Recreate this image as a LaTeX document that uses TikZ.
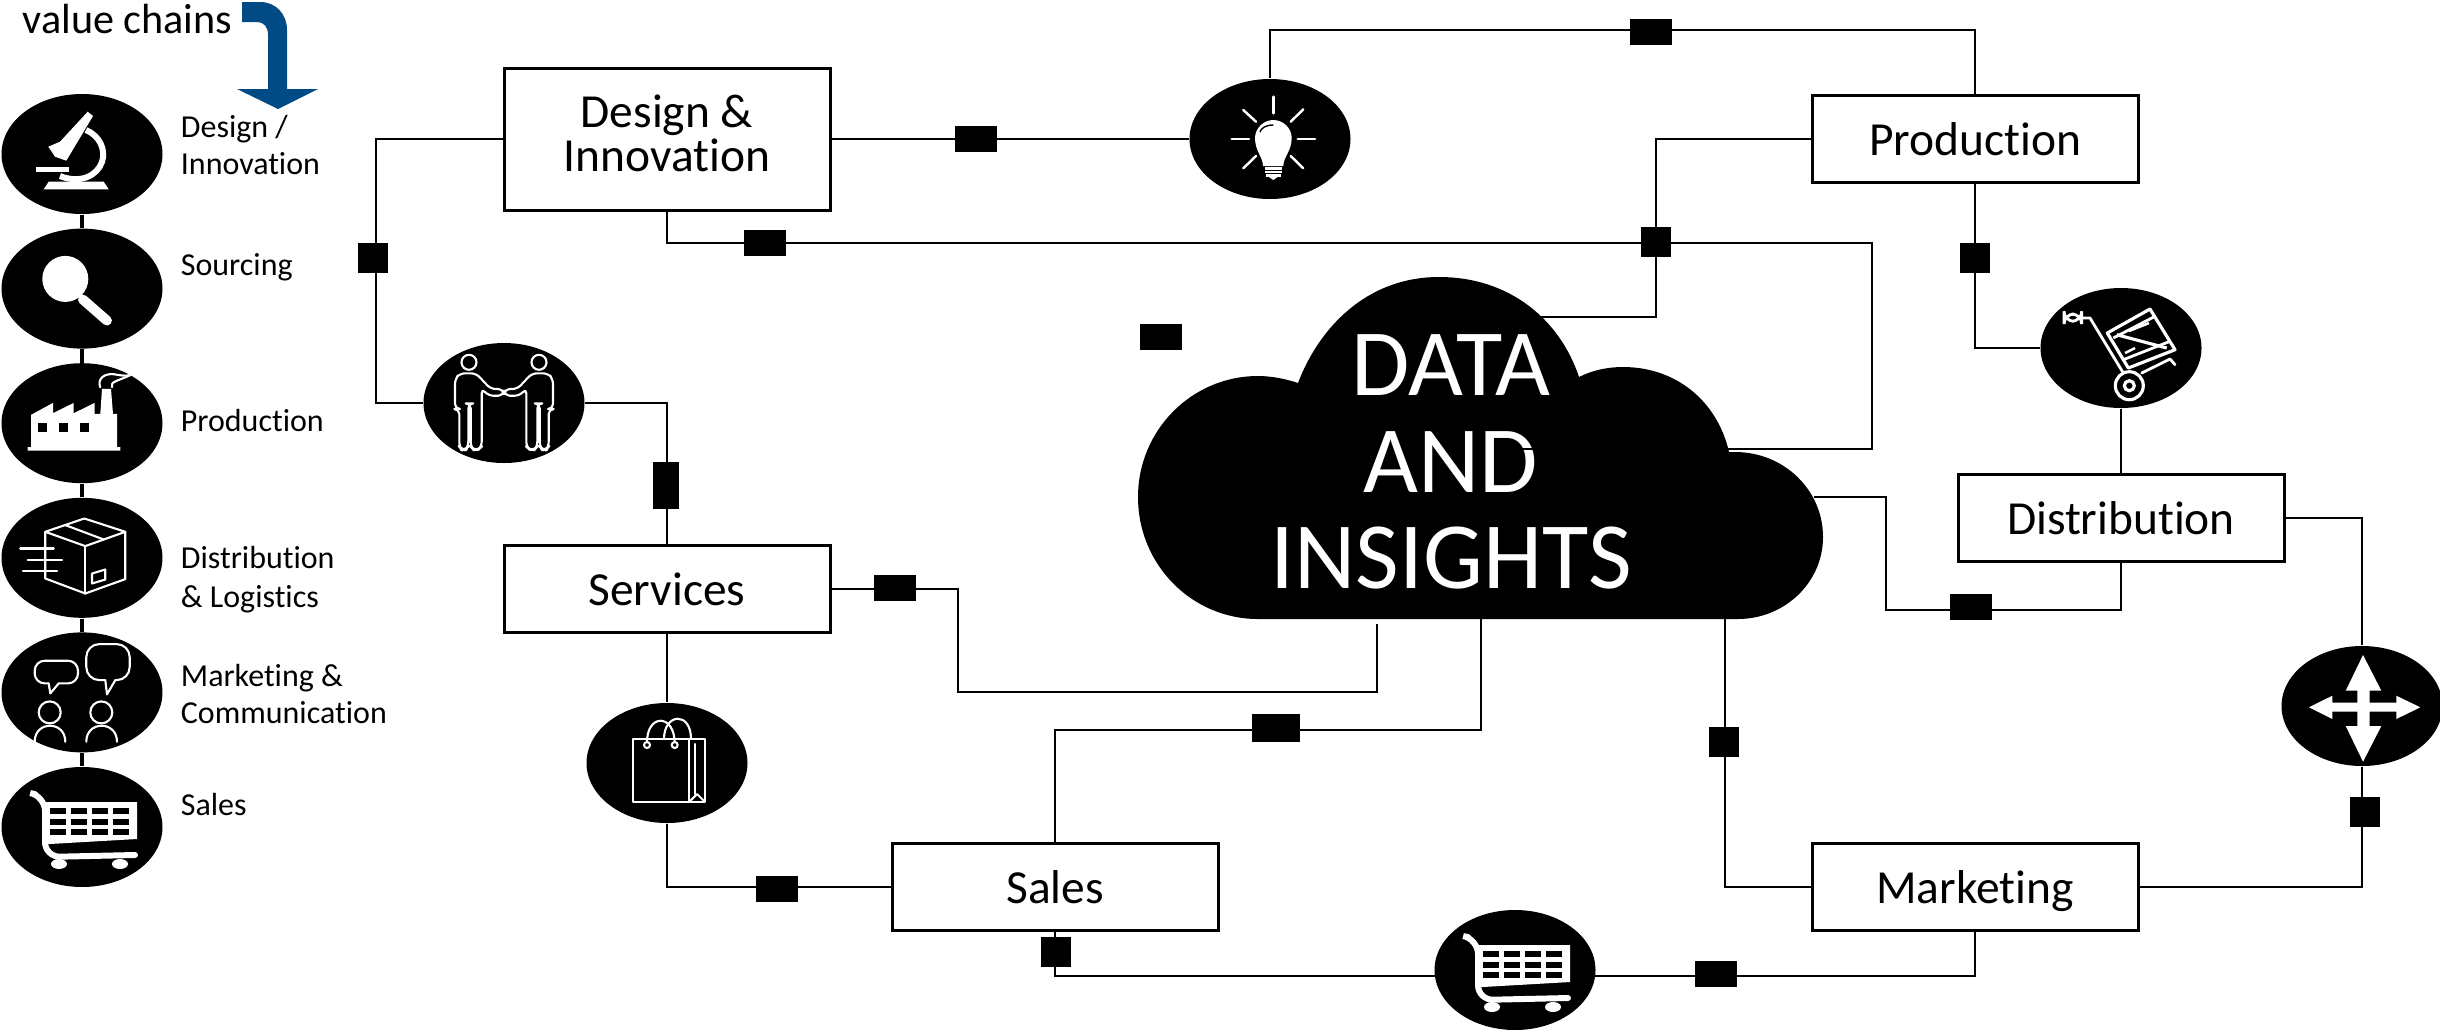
\documentclass[tikz,border=0pt]{standalone}
\usepackage{fontspec}
\setmainfont[Ligatures=NoCommon]{Carlito}
\usetikzlibrary{positioning,shapes.geometric}
\definecolor{chainblue}{HTML}{004A86}
\tikzset{
  iconline/.style={white,line width=.6pt,line join=round,line cap=round},
  pics/micropic/.style={code={
    \fill[white] (5.7,-42.3) -- (11,-38) -- (-15.7,6.7) -- (-27,2.7) -- (-33.7,-7.3) -- (-22,-12.3) -- cycle;
    \draw[white,line width=1.7pt] (4,-24) .. controls (18,-18) and (24,-4) .. (20,8) .. controls (15,22) and (-2,30) .. (-22,22);
    \fill[white] (-45.7,12.7) rectangle (-13.3,18);
    \fill[white] (-33.3,27.7) -- (21.7,27.7) -- (26.7,35.3) -- (-38.3,35.3) -- cycle;
  }},
  pics/lenspic/.style={code={
    \fill[white] (-16.7,-9.7) circle[radius=23];
    \draw[white,line width=1.4pt] (-8,1) -- (0,9);
    \draw[white,line width=2.8pt,line cap=round] (1,11) -- (25,32);
  }},
  pics/factorypic/.style={code={
    \fill[white] (-51,-8.3) -- (-29,-20.3) -- (-29,-10) -- (-8.3,-20.3) -- (-8.3,-10) -- (12.7,-20.3) -- (12.7,-9.3) -- (18.3,-9.3) -- (20,-34.3) -- (29,-34.3) -- (31,-9.3) -- (35,-9.3) -- (35,24) -- (38.3,24) -- (38.3,27.3) -- (-54.3,27.3) -- (-54.3,24) -- (-51,24) -- cycle;
    \foreach \winx in {-44.3,-23.3,-2.3}
      \fill[black] (\winx,0) rectangle ++(9,8.7);
    \draw[iconline] (18.3,-36) .. controls (15,-44) and (22,-50) .. (31.7,-49) .. controls (38,-48) and (42,-47) .. (48,-48);
    \draw[iconline] (30,-36) .. controls (28,-42) and (36,-42) .. (48,-48);
  }},
  pics/boxpic/.style={code={
    \draw[iconline] (-36.7,-26) -- (2.3,-39.3) -- (43.3,-26) -- (3.3,-11.7) -- cycle;
    \draw[iconline] (-36.7,-26) -- (-36.7,20.7) -- (3.3,35.7) -- (43.3,21.3) -- (43.3,-26);
    \draw[iconline] (3.3,-11.7) -- (3.3,35.7);
    \draw[iconline] (-16.7,-32.7) -- (21.7,-18.3);
    \draw[iconline] (10,15.7) -- (23.3,11.7) -- (23.3,21.7) -- (10,25.7) -- cycle;
    \draw[iconline] (-61.7,-9.3) -- (-28.3,-9.3);
    \draw[iconline] (-54.3,2.3) -- (-20,2.3);
    \draw[iconline] (-59,13) -- (-25,13);
  }},
  pics/talkpic/.style={code={
    \draw[iconline,rounded corners=1mm] (-33.3,-9) -- (-47.3,-9) -- (-47.3,-31.7) -- (-4,-31.7) -- (-4,-9) -- (-23.3,-9);
    \draw[iconline] (-33.3,-9) -- (-31.7,1) -- (-23.3,-9);
    \draw[iconline,rounded corners=1.3mm] (23.3,-12.3) -- (4.3,-12.3) -- (4.3,-48.3) -- (47.7,-48.3) -- (47.7,-12.3) -- (33.3,-12.3);
    \draw[iconline] (23.3,-12.3) -- (25,2) -- (33.3,-12.3);
    \draw[iconline] (-32.3,20) circle[radius=11];
    \draw[iconline] (19.3,20) circle[radius=11];
    \draw[iconline] (-47.3,49.3) .. controls (-47.3,28) and (-16.7,28) .. (-16.7,49.3);
    \draw[iconline] (4.3,49.3) .. controls (4.3,28) and (35,28) .. (35,49.3);
  }},
  pics/cartpic/.style={code={
    \fill[white] (-38,-25) -- (55,-25) -- (55,12) -- (-32,17) -- (-38,17) -- cycle;
    \foreach \cellx in {-32,-11,10,31} {
      \fill[black] (\cellx,-19) rectangle ++(16,6);
      \fill[black] (\cellx,-8) rectangle ++(16,6);
      \fill[black] (\cellx,2) rectangle ++(16,6);
    }
    \draw[white,line width=1.7pt,line cap=round,rounded corners=1.5mm] (-47,-33) -- (-37,-31) -- (-37,30) -- (53,28);
    \fill[white] (-23,37) ellipse[x radius=8,y radius=5];
    \fill[white] (38,37) ellipse[x radius=8,y radius=5];
  }},
  pics/bulbpic/.style={code={
    \foreach \raya/\rayb/\rayc/\rayd in {3.3/-42.3/3.3/-25.7,-26.7/-29/-14/-17.3,33.3/-29.7/20.7/-17.3,-38.3/0/-21/0,27.7/0/45/0,-26.7/29.3/-14/17,33.3/29.3/20.7/17}
      \draw[white,line width=.7pt,line cap=round] (\raya,\rayb) -- (\rayc,\rayd);
    \fill[white] (-7,27) .. controls (-7,18) and (-15,12) .. (-15,-1) .. controls (-15,-11) and (-6,-19) .. (3.3,-19) .. controls (13,-19) and (21.7,-11) .. (21.7,-1) .. controls (21.7,12) and (13.3,18) .. (13.3,27) -- cycle;
    \draw[black,line width=.4pt] (-10,-7) .. controls (-9,-11) and (-4,-14) .. (3.3,-14);
    \draw[white,line width=.7pt] (-5,29.5) -- (11.5,29.5);
    \draw[white,line width=.7pt] (-5,33) -- (11.5,33);
    \draw[white,line width=.7pt] (-4,36.5) -- (10.5,36.5);
    \fill[white] (-1,38) -- (7.5,38) -- (3.3,41) -- cycle;
  }},
  pics/personpic/.style={code={
    \draw[iconline,rounded corners=.5mm] (-49,-24) -- (-44,-29.7) -- (-28,-29.7) -- (-13.3,-14) -- (-.5,-14) -- (-.5,-7.3) -- (-15.7,-7.3) -- (-22.3,-14.7) -- (-22.3,43.7) -- (-25.7,46.7) -- (-30.7,46.7) -- (-33.3,43.7) -- (-33.3,.3) -- (-35.7,.3) -- (-35.7,43.7) -- (-38.3,46.7) -- (-42.3,46.7) -- (-44.7,43.7) -- (-44.7,6) -- (-49,6) -- cycle;
    \draw[iconline] (-35,-40.7) circle[radius=7.5];
  }},
  pics/bagpic/.style={code={
    \draw[iconline] (-34.3,-24) rectangle (21.7,39.3);
    \draw[iconline] (21.7,-24) -- (38.3,-24) -- (38.3,39.3) -- (21.7,39.3);
    \draw[iconline] (28,-19) -- (28,31);
    \draw[iconline] (23,38) -- (30,31) -- (37,38);
    \draw[iconline] (-20,-19) .. controls (-21,-50) and (8,-50) .. (7.7,-19);
    \draw[iconline] (-3,-24) .. controls (-3,-50) and (24,-52) .. (24,-24);
    \draw[iconline,fill=black] (-20,-18) circle[radius=3];
    \draw[iconline,fill=black] (7.7,-18) circle[radius=3];
  }},
  pics/trolleypic/.style={code={
    \draw[white,line width=.8pt,rounded corners=1mm] (-57,-34) rectangle (-39.3,-26.7);
    \draw[white,line width=.8pt,line join=round] (-39.3,-30) -- (-31,-30) -- (2.3,25);
    \draw[white,line width=.9pt] (8.3,37.7) circle[radius=14];
    \draw[white,line width=.9pt] (8.3,37.7) circle[radius=5];
    \draw[white,line width=.8pt,line cap=round,line join=round] (20.7,25) -- (49,11) -- (54,16.7);
    \draw[white,line width=.9pt,line join=round] (-13.7,-15) -- (29,-39) -- (54,1.7) -- (7.3,20) -- cycle;
    \draw[white,line width=.8pt] (-7.7,-10) -- (34,-31.7);
    \draw[white,line width=.8pt] (2.3,11.7) -- (49,-6.7);
    \draw[white,line width=.9pt] (-4.3,-13.3) -- (45.7,0);
    \draw[white,line width=.7pt] (8,-17) -- (28,-25);
    \draw[white,line width=.7pt] (4,5) -- (14,0);
  }},
  pics/crosspic/.style={code={
    \fill[white] (1,-51) -- (19.3,-15.3) -- (7.7,-15.3) -- (7.7,-3.3) -- (34.3,-3.3) -- (34.3,-10.3) -- (58.3,1.3) -- (34.3,13) -- (34.3,5.7) -- (7.7,5.7) -- (7.7,20) -- (19.3,20) -- (1,55.7) -- (-16.3,20) -- (-4.7,20) -- (-4.7,5.7) -- (-29.7,5.7) -- (-29.7,13) -- (-53,1.3) -- (-29.7,-10.3) -- (-29.7,-3.3) -- (-4.7,-3.3) -- (-4.7,-15.3) -- (-16.3,-15.3) -- cycle;
  }}
}

\begin{document}
\begin{tikzpicture}[x=.1mm,y=-.1mm,node distance=1.346cm,
    bubble/.style={ellipse,fill=black,inner sep=0pt,minimum width=1.61cm,minimum height=1.2cm},
    stagebox/.style={rectangle,draw,line width=.85pt,inner sep=0pt,minimum width=3.26cm,minimum height=.87cm,align=center,font=\fontsize{13.5}{12.4}\selectfont},
    stageline/.style={stagebox,text height=9.6pt,text depth=.1pt},
    chainlabel/.style={inner sep=0pt,align=left,font=\fontsize{9.1}{10.7}\selectfont},
    link/.style={line width=.45pt},
    chainlink/.style={line width=1.1pt},
    tagwide/.style={rectangle,fill=black,inner sep=0pt,minimum width=.42cm,minimum height=.26cm},
    tagtall/.style={rectangle,fill=black,inner sep=0pt,minimum width=.26cm,minimum height=.47cm},
    tagsquare/.style={rectangle,fill=black,inner sep=0pt,minimum width=.3cm,minimum height=.3cm}]
	\useasboundingbox (0,0) rectangle (2440,1029);

	\fill[chainblue] (242,2) -- (260,2) .. controls (276,2) and (287,14) .. (287,30) -- (287,89) -- (318,89) -- (278,109) -- (237,89) -- (268,89) -- (268,35) .. controls (268,27) and (264,22) .. (257,22) -- (242,22) -- cycle;
	\node[inner sep=0pt,anchor=base west,font=\fontsize{12}{14}\selectfont] (chainhead) at (22,33) {value chains};

	\node[bubble] (chain1) at (82,154) {};
	\node[bubble] (chain2) [below of=chain1] {};
	\node[bubble] (chain3) [below of=chain2] {};
	\node[bubble] (chain4) [below of=chain3] {};
	\node[bubble] (chain5) [below of=chain4] {};
	\node[bubble] (chain6) [below of=chain5] {};
	\draw[chainlink] (chain1) -- (chain2);
	\draw[chainlink] (chain2) -- (chain3);
	\draw[chainlink] (chain3) -- (chain4);
	\draw[chainlink] (chain4) -- (chain5);
	\draw[chainlink] (chain5) -- (chain6);
	\pic at (chain1) {micropic};
	\pic at (chain2) {lenspic};
	\pic at (chain3) {factorypic};
	\pic at (chain4) {boxpic};
	\pic at (chain5) {talkpic};
	\pic at (chain6) {cartpic};

	\node[chainlabel] (label1) [right=1.7mm of chain1,yshift=.09cm] {Design /\\Innovation};
	\node[chainlabel] (label2) [right=1.7mm of chain2,yshift=.21cm] {Sourcing};
	\node[chainlabel] (label3) [right=1.7mm of chain3,yshift=.03cm] {Production};
	\node[chainlabel,font=\fontsize{9.1}{11.2}\selectfont] (label4) [right=1.7mm of chain4,yshift=-.22cm] {Distribution\\\& Logistics};
	\node[chainlabel] (label5) [right=1.7mm of chain5,yshift=-.015cm] {Marketing \&\\Communication};
	\node[chainlabel] (label6) [right=1.7mm of chain6,yshift=.22cm] {Sales};

	\node[stagebox,minimum height=1.42cm,text depth=3.4pt] (design) at (667,139) {Design \&\\Innovation};
	\node[stageline] (production) at (1975,139) {Production};
	\node[stageline] (distribution) at (2121,518) {Distribution};
	\node[stageline] (services) at (667,589) {Services};
	\node[stageline] (sales) at (1055,887) {Sales};
	\node[stageline] (marketing) at (1975,887) {Marketing};

	\node[bubble] (bulb) [right of=design,node distance=6.03cm] {};
	\node[bubble] (shake) at (504,403) {};
	\node[bubble] (bag) [below of=services,node distance=1.74cm] {};
	\node[bubble] (trolley) [above of=distribution,node distance=1.7cm] {};
	\node[bubble] (cross) at (2362,706) {};
	\node[bubble] (cart) at (1515,970) {};
	\pic at (bulb) {bulbpic};
	\pic at (shake) {personpic};
	\pic[xscale=-1] at (shake) {personpic};
	\pic at (bag) {bagpic};
	\pic at (trolley) {trolleypic};
	\pic at (cross) {crosspic};
	\pic at (cart) {cartpic};

	\fill[black] (1258,619) .. controls (1192,619) and (1138,565) .. (1138,497) .. controls (1138,430) and (1192,376) .. (1258,376) .. controls (1272,376) and (1286,379) .. (1298,383) .. controls (1318,330) and (1365,277) .. (1439,277) .. controls (1510,277) and (1560,320) .. (1579,377) .. controls (1593,370) and (1608,367) .. (1623,367) .. controls (1675,367) and (1717,400) .. (1729,452) -- (1735,452) .. controls (1784,452) and (1823,490) .. (1823,537) .. controls (1823,583) and (1784,619) .. (1738,619) -- cycle;
	\node[text=white,inner sep=0pt,align=center,font=\fontsize{27}{27.4}\selectfont] (data) at (1451,462) {DATA\\AND\\INSIGHTS};

	\coordinate (cloudtop) at (1540,317);
	\coordinate (cloudupper) at (1511,449);
	\coordinate (cloudright) at (1814,497);
	\coordinate (cloudleft) at (1377,624);
	\coordinate (cloudmid) at (1481,619);
	\coordinate (cloudlow) at (1725,619);
	\coordinate (cartwest) at (1436,976);
	\coordinate (carteast) at (1594,976);
	\coordinate (turnshake) at (376,403);
	\coordinate (turnupper) at (1872,243);
	\coordinate (turnservices) at (958,692);
	\coordinate (turnsales) at (1055,730);
	\coordinate (turntop) at (1656,317);
	\coordinate (turnright) at (1886,610);
	\coordinate (turntrolley) at (1975,348);
	\coordinate (turnroof) at (1975,30);
	\coordinate (turnbag) at (667,887);
	\coordinate (turnmarket) at (2362,887);
	\coordinate (turncross) at (2362,518);

	\draw[link] (design.west) -| (turnshake) -- (shake.west);
	\draw[link] (shake.east) -| (services.north);
	\draw[link] (services.south) -- (bag.north);
	\draw[link] (bag.south) -- (turnbag) -- (sales.west);
	\draw[link] (sales.south) |- (cartwest);
	\draw[link] (carteast) -| (marketing.south);
	\draw[link] (marketing.east) -- (turnmarket) -- (cross.south);
	\draw[link] (cross.north) -- (turncross) -- (distribution.east);
	\draw[link] (distribution.north) -- (trolley.south);
	\draw[link] (trolley.west) -- (turntrolley) -- (production.south);
	\draw[link] (production.north) -- (turnroof) -| (bulb.north);
	\draw[link] (design.east) -- (bulb.west);
	\draw[link] (design.south) |- (turnupper) |- (cloudupper);
	\draw[link] (production.west) -| (turntop) -- (cloudtop);
	\draw[link] (cloudright) -| (turnright) -| (distribution.south);
	\draw[link] (cloudleft) |- (turnservices) |- (services.east);
	\draw[link] (cloudmid) |- (turnsales) -- (sales.north);
	\draw[link] (cloudlow) |- (marketing.west);

	\node[tagsquare] (tagshake) at (373,258) {};
	\node[tagtall] (tagservices) at (666,485) {};
	\node[tagwide] (tagbag) at (777,889) {};
	\node[tagsquare] (tagsales) at (1056,952) {};
	\node[tagwide] (tagcart) at (1716,974) {};
	\node[tagsquare] (tagcross) at (2365,812) {};
	\node[tagsquare] (tagtrolley) at (1975,258) {};
	\node[tagwide] (tagroof) at (1651,32) {};
	\node[tagwide] (tagbulb) at (976,139) {};
	\node[tagwide] (tagupper) at (765,243) {};
	\node[tagsquare] (tagtop) at (1656,242) {};
	\node[tagwide] (tagright) at (1971,607) {};
	\node[tagwide] (tagleft) at (895,588) {};
	\node[tagwide,minimum width=.48cm,minimum height=.28cm] (tagmid) at (1276,728) {};
	\node[tagsquare] (taglow) at (1724,742) {};
	\node[tagwide] (tagfree) at (1161,337) {};
\end{tikzpicture}
\end{document}
